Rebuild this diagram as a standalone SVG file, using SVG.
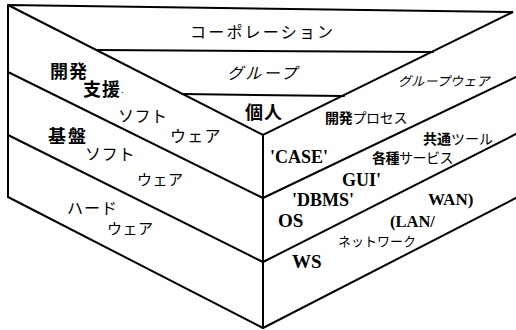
<svg xmlns="http://www.w3.org/2000/svg" width="516" height="330" viewBox="0 0 516 330">
<style>
.ln{fill:none;stroke:#000;stroke-width:2;stroke-linejoin:miter;stroke-linecap:round}
.jp{font-family:"Noto Sans CJK JP","Noto Sans",sans-serif;fill:#000;dominant-baseline:central}
.b{font-weight:bold}
.la{font-family:"Liberation Serif","DejaVu Serif",serif;font-weight:bold;fill:#000}
</style>
<rect width="516" height="330" fill="#fff"/>
<g id="connectors">
<path class="ln" d="M8,5 L513,12 L263,135 Z"/>
<path class="ln" d="M8,5 L8,197 M263,135 L263,328"/>
<path class="ln" d="M98,50 L433,52 M182,94 L344,96"/>
<path class="ln" d="M8,72 L263,198 M8,135 L263,262 M8,197 L263,328"/>
<path class="ln" d="M263,198 L516,77 M263,262 L516,134 M263,328 L516,198"/>
</g>
<g id="top-face">
<text class="jp" x="190" y="31" font-size="16" letter-spacing="2.2">コーポレーション</text>
<text class="jp" x="227" y="72" font-size="16" letter-spacing="2.2" font-style="italic">グループ</text>
<text class="jp b" x="245" y="111" font-size="18" letter-spacing="1">個人</text>
</g>
<g id="left-dev-support">
<text class="jp b" x="50" y="70" font-size="18" letter-spacing="1">開発</text>
<text class="jp b" x="83" y="88" font-size="18" letter-spacing="1">支援<tspan font-weight="normal" font-size="10">.</tspan></text>
<text class="jp" x="118" y="115" font-size="16" letter-spacing="0.5">ソフト</text>
<text class="jp" x="170" y="135" font-size="16" letter-spacing="1.3">ウェア</text>
</g>
<g id="left-base">
<text class="jp b" x="48" y="135" font-size="18" letter-spacing="2">基盤</text>
<text class="jp" x="85" y="153" font-size="16" letter-spacing="0.7">ソフト</text>
<text class="jp" x="137" y="178" font-size="15" letter-spacing="0.5">ウェア</text>
</g>
<g id="left-hardware">
<text class="jp" x="67" y="207" font-size="16" letter-spacing="1">ハード</text>
<text class="jp" x="107" y="227" font-size="15" letter-spacing="0.5">ウェア</text>
</g>
<g id="right-top">
<text class="jp" x="398" y="80" font-size="13" letter-spacing="0.2" font-style="italic">グループウェア</text>
<text class="jp" x="325" y="117" font-size="14" letter-spacing="-0.3"><tspan font-weight="bold">開発</tspan>プロセス</text>
<text class="la" x="270" y="163" font-size="18">'CASE'</text>
</g>
<g id="right-middle">
<text class="jp" x="423" y="138" font-size="14"><tspan font-weight="bold">共通</tspan>ツール</text>
<text class="jp" x="372" y="157" font-size="14" letter-spacing="-0.5"><tspan font-weight="bold">各種</tspan>サービス</text>
<text class="la" x="342" y="186" font-size="18">GUI'</text>
<text class="la" x="292" y="206" font-size="18">'DBMS'</text>
<text class="la" x="278" y="227" font-size="19">OS</text>
</g>
<g id="right-bottom">
<text class="la" x="428" y="205" font-size="17">WAN)</text>
<text class="la" x="390" y="227" font-size="16.5">(LAN/</text>
<text class="jp" x="338" y="240" font-size="13">ネットワーク</text>
<text class="la" x="292" y="268" font-size="19">WS</text>
</g>
</svg>
